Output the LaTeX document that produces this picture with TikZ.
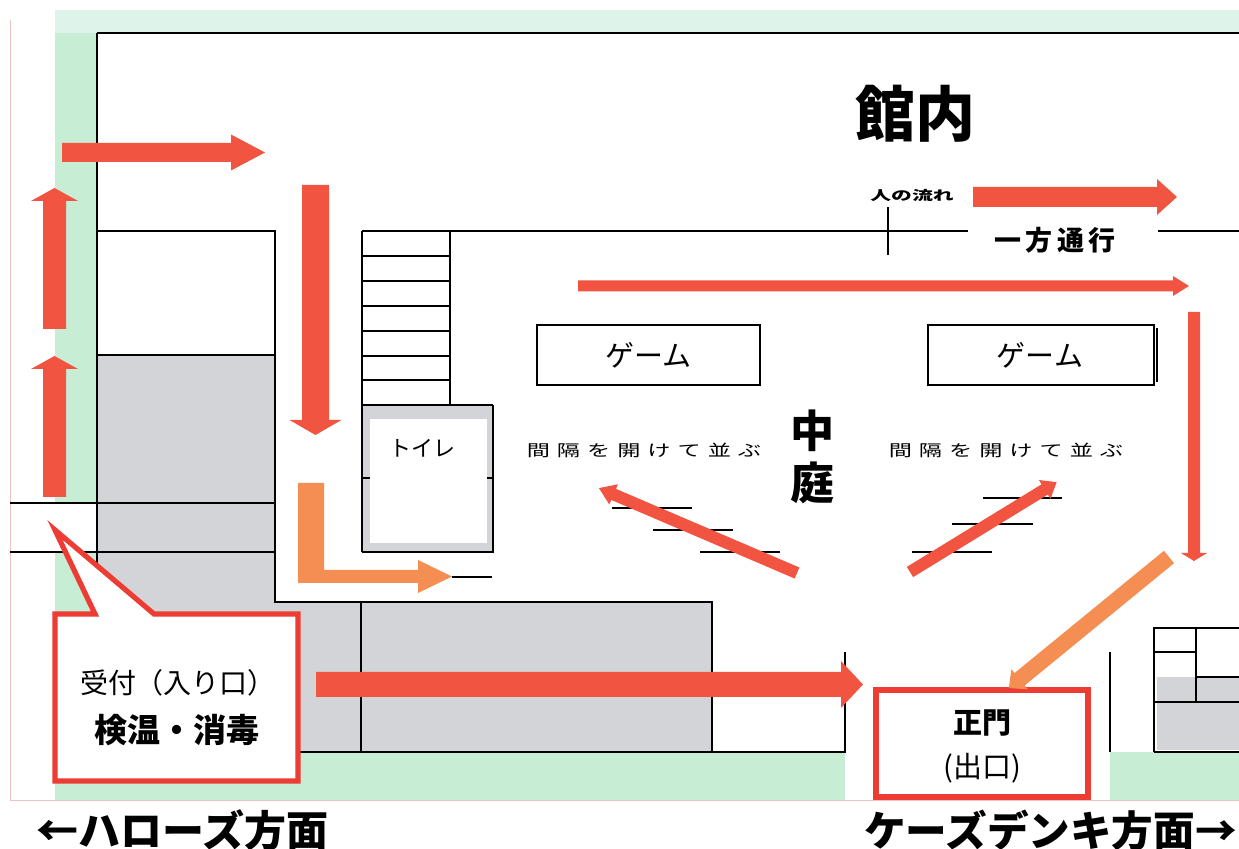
\documentclass[tikz,border=0pt]{standalone}
\usepackage{graphicx}
\usepackage{fontspec}
\newfontfamily\jp{Noto Sans CJK JP}
\definecolor{flowred}{RGB}{242,84,66}
\definecolor{floworange}{RGB}{245,142,82}
\definecolor{calloutred}{RGB}{236,60,52}
\definecolor{areagray}{RGB}{211,212,215}
\definecolor{greentop}{RGB}{222,244,234}
\definecolor{greenmid}{RGB}{200,237,213}
\definecolor{pinkline}{RGB}{240,195,195}
\newcommand\flowarrow[8]{%
  \fill[#1,shift={(#2,#3)},rotate=#4] (0,-#6) -- ({#5-#8},-#6) -- ({#5-#8},-#7) -- (#5,0) -- ({#5-#8},#7) -- ({#5-#8},#6) -- (0,#6) -- cycle;}
\newcommand\jsize[1]{\fontsize{#1}{#1}\selectfont}
\tikzset{
  wall/.style={draw=black,line width=0.55pt},
  lbl/.style={inner sep=0pt,font=\jp},
  redbox/.style={draw=calloutred,line width=2.6pt,fill=white,line join=miter},
  gamebox/.style={draw=black,line width=0.6pt,fill=white},
}
\begin{document}
\begin{tikzpicture}[x=0.5pt,y=-0.5pt]
\useasboundingbox (0,0) rectangle (1239,849);
\fill[white] (0,0) rectangle (1239,849);
% green surroundings
\fill[greentop] (55,10) rectangle (1239,33);
\fill[greenmid] (55,33) rectangle (97,503);
\fill[greenmid] (55,552) rectangle (97,752);
\fill[greenmid] (55,752) rectangle (845,800);
\fill[greenmid] (1110,752) rectangle (1239,800);
\draw[pinkline,line width=0.4pt] (10,20) -- (10,800) -- (1239,800);
% gray areas
\fill[areagray] (97,355) rectangle (275,552);
\fill[areagray] (97,552) -- (275,552) -- (275,602) -- (712,602) -- (712,752) -- (97,752) -- cycle;
\fill[areagray] (362,405) rectangle (493,552);
\fill[white] (370,419) rectangle (487,543);
\fill[areagray] (1157,677) rectangle (1239,750);
% walls
\draw[wall] (97,33) -- (1239,33);
\draw[wall] (97,33) -- (97,752) -- (845,752) -- (845,652);
\draw[wall] (10,503) -- (275,503);
\draw[wall] (10,552) -- (275,552);
\draw[wall] (97,231) -- (275,231) -- (275,602) -- (712,602) -- (712,752);
\draw[wall] (97,355) -- (275,355);
\draw[wall] (361,602) -- (361,752);
\draw[wall] (362,231) -- (968,231);
\draw[wall] (1158,231) -- (1239,231);
\draw[wall] (888,207) -- (888,255);
\draw[wall] (362,231) -- (362,552);
\draw[wall] (450,231) -- (450,405);
\foreach \yy in {256,281,306,331,356,380} \draw[wall] (362,\yy) -- (450,\yy);
\draw[wall] (362,405) -- (493,405);
\draw[wall,line width=0.9pt] (493,405) -- (493,552) -- (362,552);
\draw[wall] (362,478) -- (370,478);
\draw[wall] (487,478) -- (493,478);
\draw[wall] (452,577) -- (492,577);
\draw[wall] (1110,652) -- (1110,752);
\draw[wall] (1154,752) -- (1154,628) -- (1239,628);
\draw[wall] (1196,628) -- (1196,702);
\draw[wall] (1154,652) -- (1196,652);
\draw[wall] (1196,677) -- (1239,677);
\draw[wall] (1154,702) -- (1239,702);
\draw[wall] (1154,752) -- (1239,752);
% game tables
\node[gamebox,minimum width=111.5pt,minimum height=30pt,inner sep=0pt] (gameL) at (648.5,355) {};
\node[gamebox,minimum width=113pt,minimum height=30pt,inner sep=0pt] (gameR) at (1041,355) {};
\draw[wall] (1157,328) -- (1157,382);
% queue lines
\draw[black,line width=1.1pt] (612,508) -- (692,508);
\draw[black,line width=1.1pt] (653,530) -- (733,530);
\draw[black,line width=1.1pt] (700,552) -- (780,552);
\draw[black,line width=1.1pt] (983,498) -- (1062,498);
\draw[black,line width=1.1pt] (952,524) -- (1033,524);
\draw[black,line width=1.1pt] (912,552) -- (992,552);
% flow arrows
\flowarrow{flowred}{62}{152.5}{0}{203}{9.5}{18}{34}
\flowarrow{flowred}{315.5}{185}{-90}{250}{13.5}{26}{15}
\flowarrow{flowred}{54.5}{329}{90}{141}{11.5}{23.5}{13}
\flowarrow{flowred}{54.5}{497}{90}{141}{11.5}{23.5}{13}
\flowarrow{flowred}{973}{197}{0}{204}{10}{18}{20}
\flowarrow{flowred}{578}{286}{0}{611}{5.5}{10}{16}
\flowarrow{flowred}{1194}{312}{-90}{249}{6}{13}{8}
\flowarrow{flowred}{316}{684.5}{0}{547}{12.5}{23.5}{22}
\flowarrow{flowred}{797}{573}{156.8}{215.5}{6}{11}{16}
\flowarrow{flowred}{910}{572}{31.5}{172}{6}{11}{14}
\fill[floworange] (298,483) -- (324,483) -- (324,570) -- (418,570) -- (418,560) -- (452,576.5) -- (418,593) -- (418,583) -- (298,583) -- cycle;
% callout and gate boxes
\draw[redbox] (55,614) -- (95,614) -- (55,530) -- (154,614) -- (298,614) -- (298,781) -- (55,781) -- cycle;
\draw[redbox,line width=3pt] (876,690) rectangle (1088,797);
\flowarrow{floworange}{1169}{557}{219.3}{207}{8}{13}{14}
% texts
\node[lbl,font=\jp\bfseries\jsize{30pt}] (kannai) at (915,114) {館内};
\node[lbl,font=\jp\bfseries\jsize{6.5pt}] (flowlbl) at (912,196) {\scalebox{1.6}[1]{人の流れ}};
\node[lbl,font=\jp\bfseries\jsize{13.5pt}] (oneway) at (1055,240) {一\hspace{2.3pt}方\hspace{2.3pt}通\hspace{2.3pt}行};
\node[lbl,font=\jp\jsize{14.5pt}] (gameLt) at (gameL) {ゲーム};
\node[lbl,font=\jp\jsize{14.5pt}] (gameRt) at (1040,355) {ゲーム};
\node[lbl,font=\jp\bfseries\jsize{22pt}] (naka) at (812,431) {中};
\node[lbl,font=\jp\bfseries\jsize{22pt}] (niwa) at (812,483) {庭};
\node[lbl,font=\jp\jsize{8pt}] (gapL) at (644,450) {\scalebox{1.45}[1]{間\hspace{2.4pt}隔\hspace{2.4pt}を\hspace{2.4pt}開\hspace{2.4pt}け\hspace{2.4pt}て\hspace{2.4pt}並\hspace{2.4pt}ぶ}};
\node[lbl,font=\jp\jsize{8pt}] (gapR) at (1006,450) {\scalebox{1.45}[1]{間\hspace{2.4pt}隔\hspace{2.4pt}を\hspace{2.4pt}開\hspace{2.4pt}け\hspace{2.4pt}て\hspace{2.4pt}並\hspace{2.4pt}ぶ}};
\node[lbl,font=\jp\jsize{11pt}] (toilet) at (422,448) {トイレ};
\node[lbl,font=\jp\jsize{14pt}] (uketsuke) at (178,683) {受付（入り口）};
\node[lbl,font=\jp\bfseries\jsize{16.5pt}] (kenon) at (177,730) {検温・消毒};
\node[lbl,font=\jp\bfseries\jsize{14.5pt}] (seimon) at (982,723) {正門};
\node[lbl,font=\jp\jsize{14.5pt}] (deguchi) at (982,768) {(出口)};
\node[lbl,font=\jp\bfseries\jsize{21pt},anchor=west] (harozu) at (36,830) {←ハローズ方面};
\node[lbl,font=\jp\bfseries\jsize{20.8pt},anchor=east] (ksdenki) at (1237,830) {ケーズデンキ方面→};
\end{tikzpicture}
\end{document}
